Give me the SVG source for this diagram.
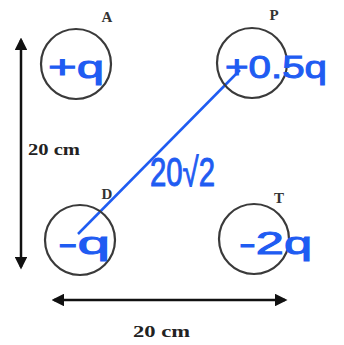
<svg xmlns="http://www.w3.org/2000/svg" width="344" height="345" viewBox="0 0 344 345">
<defs>
<style>
.c{fill:none;stroke:#3a3a3a;stroke-width:2.2}
.lbl{font-family:"Liberation Serif",serif;font-weight:bold;font-size:15px;fill:#333;text-anchor:middle}
.dim{font-family:"Liberation Serif",serif;font-weight:bold;font-size:16px;fill:#222}
.hw{font-family:"Liberation Sans",sans-serif;font-size:32px;fill:#1f5cf2;stroke:#1f5cf2;stroke-width:1}
.ax{stroke:#111;stroke-width:2.5;fill:none}
</style>
<marker id="ah" viewBox="0 0 10 10" refX="8" refY="5" markerWidth="5" markerHeight="5" orient="auto-start-reverse" markerUnits="strokeWidth">
<path d="M0,0 L10,5 L0,10 Z" fill="#111"/>
</marker>
</defs>
<rect width="344" height="345" fill="#fff"/>
<g id="connectors">
<line class="ax" x1="21" y1="40" x2="21" y2="267" marker-start="url(#ah)" marker-end="url(#ah)"/>
<line class="ax" x1="54" y1="300" x2="285" y2="300" marker-start="url(#ah)" marker-end="url(#ah)"/>
<line x1="78" y1="234" x2="240" y2="70" stroke="#1f5cf2" stroke-width="2.5"/>
</g>
<text class="dim" x="28" y="155" textLength="52" lengthAdjust="spacingAndGlyphs">20 cm</text>
<text class="dim" x="133" y="337" textLength="57" lengthAdjust="spacingAndGlyphs">20 cm</text>
<g id="A">
<circle class="c" cx="76" cy="64" r="35"/>
<text class="lbl" x="107" y="22">A</text>
<text class="hw" x="48" y="78" textLength="56" lengthAdjust="spacingAndGlyphs">+q</text>
</g>
<g id="P">
<circle class="c" cx="252" cy="63" r="35"/>
<text class="lbl" x="274" y="20">P</text>
<text class="hw" x="225" y="78" textLength="102" lengthAdjust="spacingAndGlyphs">+0.5q</text>
</g>
<g id="D">
<circle class="c" cx="80" cy="240" r="35"/>
<text class="lbl" x="107" y="199">D</text>
<text class="hw" x="58" y="254" textLength="52" lengthAdjust="spacingAndGlyphs">-q</text>
</g>
<g id="T">
<circle class="c" cx="254" cy="239" r="35"/>
<text class="lbl" x="279" y="203">T</text>
<text class="hw" x="239" y="254" textLength="73" lengthAdjust="spacingAndGlyphs">-2q</text>
</g>
<text class="hw" x="150" y="186" style="font-size:40px" textLength="65" lengthAdjust="spacingAndGlyphs">20√2</text>
</svg>
